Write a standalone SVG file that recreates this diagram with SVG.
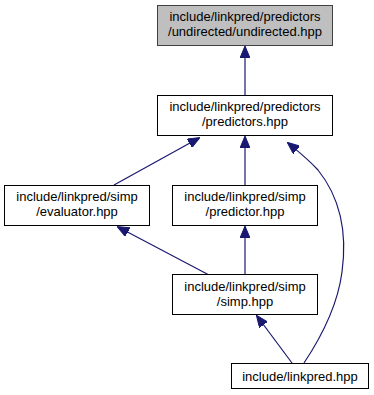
<svg xmlns="http://www.w3.org/2000/svg" width="374" height="395" viewBox="0 0 374 395">
  <style>
    .box { fill: #ffffff; stroke: #000000; stroke-width: 1; }
    .box.hl { fill: #bfbfbf; stroke: #404040; }
    .lbl { font-family: "Liberation Sans", Arial, sans-serif; font-size: 13px; fill: #000000; text-anchor: middle; }
    .edge { fill: none; stroke: #191970; stroke-width: 1.2; }
  </style>
  <defs>
    <marker id="arrow" viewBox="0 0 12 10" refX="11" refY="5" markerWidth="12" markerHeight="10" markerUnits="userSpaceOnUse" orient="auto">
      <path d="M0,0 L12,5 L0,10 Z" fill="#191970" stroke="#191970"/>
    </marker>
  </defs>
  <rect width="374" height="395" fill="#ffffff"/>

  <g id="connectors">
    <path class="edge" marker-end="url(#arrow)" d="M245,95 L245,47"/>
    <path class="edge" marker-end="url(#arrow)" d="M114,185 L199,138"/>
    <path class="edge" marker-end="url(#arrow)" d="M245,185 L245,137"/>
    <path class="edge" marker-end="url(#arrow)" d="M304,363 C318,342 337,310 342,272 C348,228 338,195 318,170 C309,160 299,152 288,143"/>
    <path class="edge" marker-end="url(#arrow)" d="M209,275 L118,227"/>
    <path class="edge" marker-end="url(#arrow)" d="M245,275 L245,227"/>
    <path class="edge" marker-end="url(#arrow)" d="M292,363 L257,316"/>
  </g>

  <g id="node-undirected">
    <rect class="box hl" x="157.5" y="5.5" width="175" height="40"/>
    <text class="lbl" x="245" y="20.5">include/linkpred/predictors</text>
    <text class="lbl" x="245" y="35.5">/undirected/undirected.hpp</text>
  </g>
  <g id="node-predictors">
    <rect class="box" x="157.5" y="95.5" width="175" height="40"/>
    <text class="lbl" x="245" y="111">include/linkpred/predictors</text>
    <text class="lbl" x="245" y="126">/predictors.hpp</text>
  </g>
  <g id="node-evaluator">
    <rect class="box" x="4.5" y="185.5" width="145" height="40"/>
    <text class="lbl" x="77" y="201">include/linkpred/simp</text>
    <text class="lbl" x="77" y="216">/evaluator.hpp</text>
  </g>
  <g id="node-predictor">
    <rect class="box" x="172.5" y="185.5" width="145" height="40"/>
    <text class="lbl" x="245" y="201">include/linkpred/simp</text>
    <text class="lbl" x="245" y="216">/predictor.hpp</text>
  </g>
  <g id="node-simp">
    <rect class="box" x="172.5" y="274.5" width="145" height="40"/>
    <text class="lbl" x="245" y="290.5">include/linkpred/simp</text>
    <text class="lbl" x="245" y="305.5">/simp.hpp</text>
  </g>
  <g id="node-linkpred">
    <rect class="box" x="231.5" y="363.5" width="137" height="25"/>
    <text class="lbl" x="300" y="380.5">include/linkpred.hpp</text>
  </g>
</svg>
